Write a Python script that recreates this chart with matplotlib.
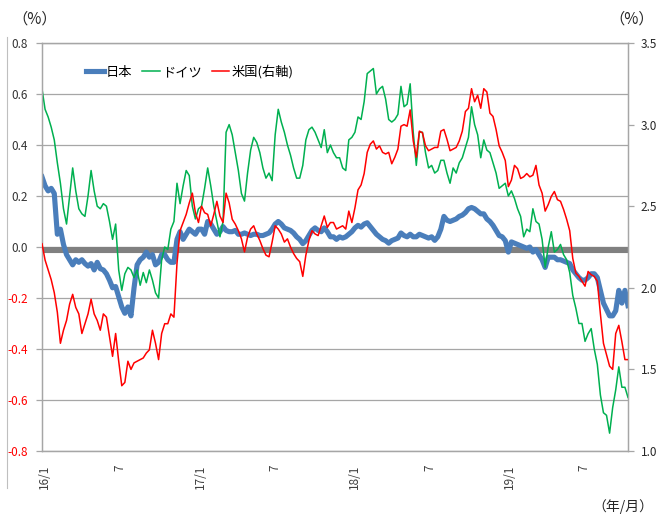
import numpy as np
import pandas as pd
import matplotlib
matplotlib.use("Agg")
import matplotlib.pyplot as plt
from matplotlib.lines import Line2D

plt.rcParams['font.family'] = ['Noto Sans CJK JP', 'DejaVu Sans']

dates = pd.date_range('2016-01-04', periods=192, freq='7D')

japan = [
    0.275, 0.24, 0.22, 0.23, 0.21, 0.05, 0.07, 0.01, -0.03, -0.05,
    -0.07, -0.05, -0.06, -0.05, -0.065, -0.075, -0.065, -0.09, -0.06, -0.085,
    -0.09, -0.105, -0.13, -0.16, -0.155, -0.195, -0.235, -0.26, -0.235, -0.27,
    -0.16, -0.07, -0.05, -0.04, -0.02, -0.04, -0.03, -0.07, -0.06, -0.03,
    -0.03, -0.05, -0.06, -0.06, 0.03, 0.06, 0.03, 0.05, 0.07, 0.06,
    0.05, 0.07, 0.07, 0.05, 0.10, 0.09, 0.07, 0.05, 0.06, 0.08,
    0.065, 0.06, 0.06, 0.065, 0.05, 0.05, 0.055, 0.05, 0.045, 0.05,
    0.05, 0.045, 0.045, 0.05, 0.055, 0.07, 0.09, 0.10, 0.09, 0.075,
    0.07, 0.065, 0.055, 0.04, 0.03, 0.013, 0.025, 0.045, 0.065, 0.075,
    0.065, 0.06, 0.075, 0.06, 0.04, 0.04, 0.03, 0.04, 0.035, 0.04,
    0.05, 0.06, 0.075, 0.085, 0.078, 0.09, 0.095, 0.08, 0.065, 0.05,
    0.04, 0.03, 0.025, 0.015, 0.025, 0.03, 0.035, 0.055, 0.045, 0.04,
    0.05, 0.04, 0.04, 0.05, 0.045, 0.04, 0.035, 0.04, 0.026, 0.04,
    0.07, 0.12, 0.105, 0.10, 0.105, 0.11, 0.12, 0.125, 0.135, 0.15,
    0.155, 0.15, 0.14, 0.13, 0.13, 0.11, 0.10, 0.085, 0.065, 0.045,
    0.04, 0.025, -0.02, 0.02, 0.015, 0.01, 0.005, 0.0, -0.005, 0.0,
    -0.02, -0.01, -0.03, -0.05, -0.08, -0.04, -0.04, -0.04, -0.05, -0.05,
    -0.055, -0.06, -0.065, -0.09, -0.105, -0.12, -0.13, -0.13, -0.12, -0.105,
    -0.105, -0.12, -0.17, -0.22, -0.245, -0.27, -0.27, -0.25, -0.17, -0.22,
    -0.17, -0.23,
]

germany = [
    0.62, 0.54, 0.51, 0.47, 0.42, 0.33, 0.25, 0.15, 0.09, 0.20,
    0.31, 0.22, 0.15, 0.13, 0.12, 0.20, 0.30, 0.22, 0.16, 0.15,
    0.17, 0.16, 0.10, 0.03, 0.09, -0.09, -0.17, -0.105, -0.08, -0.09,
    -0.12, -0.09, -0.15, -0.10, -0.14, -0.09, -0.13, -0.18, -0.20, -0.05,
    0.00, -0.01, 0.07, 0.10, 0.25, 0.17, 0.24, 0.30, 0.28, 0.16,
    0.11, 0.15, 0.16, 0.23, 0.31, 0.24, 0.16, 0.10, 0.04, 0.10,
    0.45, 0.48, 0.44, 0.37, 0.30, 0.21, 0.18, 0.29, 0.38, 0.43,
    0.41, 0.37, 0.31, 0.27, 0.29, 0.26, 0.44, 0.54, 0.49, 0.45,
    0.40, 0.36, 0.31, 0.27, 0.27, 0.32, 0.42, 0.46, 0.47, 0.45,
    0.42, 0.39, 0.46, 0.37, 0.40, 0.37, 0.35, 0.35, 0.31, 0.30,
    0.42, 0.43, 0.45, 0.51, 0.50, 0.57, 0.68, 0.69, 0.70, 0.60,
    0.62, 0.63, 0.58, 0.50, 0.49, 0.50, 0.52, 0.63, 0.55, 0.56,
    0.64, 0.45, 0.32, 0.45, 0.45, 0.37, 0.31, 0.32, 0.29, 0.30,
    0.34, 0.34, 0.29, 0.25, 0.31, 0.29, 0.33, 0.35, 0.39, 0.43,
    0.55, 0.48, 0.44, 0.35, 0.42, 0.38, 0.37, 0.33, 0.29, 0.23,
    0.24, 0.25, 0.20, 0.22, 0.19, 0.15, 0.12, 0.04, 0.07, 0.06,
    0.15, 0.10, 0.09, 0.03, -0.08, 0.00, 0.06, -0.02, -0.01, 0.01,
    -0.03, -0.05, -0.10, -0.19, -0.24, -0.30, -0.30, -0.37, -0.34, -0.32,
    -0.40, -0.46, -0.58, -0.65, -0.66, -0.73, -0.63, -0.56, -0.47, -0.55,
    -0.55, -0.59,
]

us = [
    2.27, 2.17, 2.11, 2.05, 1.97, 1.85, 1.66, 1.74, 1.80, 1.90,
    1.96, 1.88, 1.84, 1.72, 1.78, 1.84, 1.93, 1.84, 1.80, 1.74,
    1.84, 1.82, 1.70, 1.58, 1.72, 1.55, 1.40, 1.42, 1.55, 1.50,
    1.54, 1.55, 1.56, 1.57, 1.60, 1.62, 1.74, 1.66, 1.56, 1.72,
    1.78, 1.78, 1.84, 1.82, 2.15, 2.35, 2.40, 2.45, 2.52, 2.58,
    2.46, 2.40, 2.50, 2.46, 2.45, 2.38, 2.45, 2.53, 2.44, 2.40,
    2.58, 2.52, 2.42, 2.39, 2.35, 2.30, 2.22, 2.31, 2.36, 2.38,
    2.33, 2.29, 2.24, 2.20, 2.19, 2.28, 2.38, 2.36, 2.33, 2.28,
    2.30, 2.25, 2.21, 2.18, 2.16, 2.07, 2.20, 2.29, 2.35, 2.33,
    2.32, 2.38, 2.44, 2.37, 2.40, 2.40, 2.36, 2.37, 2.38, 2.36,
    2.47, 2.40, 2.49, 2.60, 2.63, 2.70, 2.83, 2.88, 2.90, 2.85,
    2.87, 2.83, 2.82, 2.83, 2.76, 2.80, 2.85, 2.99, 3.00, 2.99,
    3.09, 2.90, 2.80, 2.96, 2.95, 2.87, 2.84, 2.85, 2.86, 2.86,
    2.96, 2.97, 2.91, 2.84, 2.85, 2.86, 2.90, 2.96, 3.08, 3.10,
    3.22, 3.14, 3.18, 3.10, 3.22, 3.20, 3.07, 3.05, 2.97, 2.87,
    2.83, 2.78, 2.62, 2.66, 2.75, 2.73, 2.67, 2.68, 2.70, 2.68,
    2.69, 2.75, 2.63, 2.58, 2.47, 2.51, 2.56, 2.59, 2.54, 2.53,
    2.48, 2.42, 2.35, 2.18, 2.09, 2.07, 2.04, 2.01, 2.10, 2.08,
    2.07, 2.04, 1.84, 1.66, 1.59, 1.52, 1.50, 1.72, 1.77, 1.67,
    1.56, 1.56,
]

series_names = ['日本', 'ドイツ', '米国(右軸)']
x_tick_labels = ['16/1', '7', '17/1', '7', '18/1', '7', '19/1', '7']
left_ticks = [0.8, 0.6, 0.4, 0.2, 0.0, -0.2, -0.4, -0.6, -0.8]
right_ticks = [1.0, 1.5, 2.0, 2.5, 3.0, 3.5]

# ---------------- figure ----------------
W, H = 656, 515
fig = plt.figure(figsize=(W / 100, H / 100), dpi=100)
ax = fig.add_axes([42 / W, 1 - 451 / H, 586 / W, 408 / H])
ax2 = ax.twinx()

GRID = '#A6A6A6'
BLUE = '#4A7EBB'
GREEN = '#00B050'
RED = '#FF0000'
TXT = '#262626'

ax.axhline(-0.01, color='#808080', lw=4.4, zorder=1.5)
l_jp, = ax.plot(dates, japan, color=BLUE, lw=3.7, zorder=2, label=series_names[0])
l_de, = ax.plot(dates, germany, color=GREEN, lw=1.1, zorder=3, label=series_names[1])
l_us, = ax2.plot(dates, us, color=RED, lw=1.1, zorder=3, label=series_names[2])

ax.set_xlim(dates[0], dates[-1])
ax.set_ylim(-0.8, 0.8)
ax2.set_ylim(1.0, 3.5)

ax.grid(axis='y', color=GRID, lw=0.9)
ax.set_axisbelow(True)

# left axis ticks
ax.set_yticks(left_ticks)
ax.set_yticklabels([f'{v:.1f}' for v in left_ticks])
for lab, v in zip(ax.get_yticklabels(), left_ticks):
    lab.set_color(RED if v < 0 else '#333333')
ax.tick_params(axis='y', length=4, width=0.9, color=GRID, pad=6, labelsize=8.5)

# right axis ticks
ax2.set_yticks(right_ticks)
ax2.set_yticklabels([f'{v:.1f}' for v in right_ticks])
ax2.tick_params(axis='y', length=4, width=0.9, color=GRID, pad=5,
                labelsize=8.5, labelcolor=TXT)

# x ticks (label positions in weeks from the first observation)
tick_weeks = [0.9, 25.4, 51.5, 75.9, 101.7, 126.5, 152.2, 176.7]
tick_pos = [dates[0] + pd.Timedelta(days=7 * w) for w in tick_weeks]
ax.set_xticks(tick_pos)
ax.set_xticklabels(x_tick_labels, rotation=90)
ax.tick_params(axis='x', length=0, pad=10, labelsize=8.5, labelcolor='#404040')

for a in (ax, ax2):
    for s in a.spines.values():
        s.set_color(GRID)
        s.set_linewidth(0.9)

# legend
ax2.legend([l_jp, l_de, l_us], series_names, loc='center left',
           bbox_to_anchor=((86 - 42) / 586, (451 - 72) / 408),
           ncol=3, frameon=False, handlelength=1.35, handletextpad=0.15,
           columnspacing=0.75, fontsize=9.5, borderaxespad=0, borderpad=0)

# unit labels
fig.text(12 / W, 1 - 19 / H, '（%）', ha='left', va='center', fontsize=11, color=TXT)
fig.text(654 / W, 1 - 19 / H, '（%）', ha='right', va='center', fontsize=11, color=TXT)
fig.text(653 / W, 1 - 507 / H, '（年/月）', ha='right', va='center', fontsize=10, color=TXT)

# outer frame edge on the left
fig.add_artist(Line2D([7 / W, 7 / W], [1 - 37 / H, 1 - 488 / H], color='#BFBFBF', lw=0.8))

fig.savefig('out.png', dpi=100)
